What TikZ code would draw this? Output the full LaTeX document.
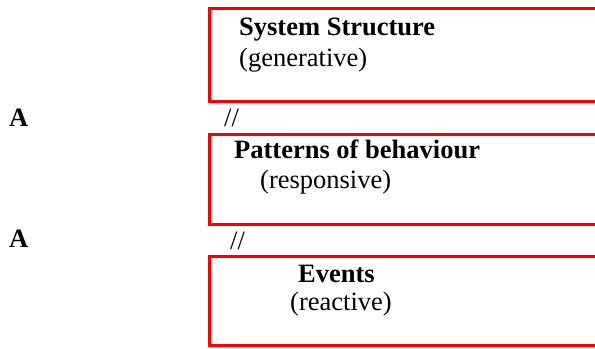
\documentclass[tikz,border=0pt]{standalone}
\usepackage{fontspec}
\setmainfont{Liberation Serif}
\definecolor{boxred}{RGB}{255,0,0}
\begin{document}
\begin{tikzpicture}[x=1bp,y=-1bp,
  redbox/.style={draw=boxred,line width=3bp,line join=miter},
  lbl/.style={anchor=base west,inner sep=0pt,font=\fontsize{26.5bp}{30bp}\selectfont},
  title/.style={lbl,font=\fontsize{26.5bp}{30bp}\selectfont\bfseries}]
\useasboundingbox (0,0) rectangle (595,348);
% open boxes (right side runs off the page)
\draw[redbox] (600,8) -- (209,8) -- (209,101.5) -- (600,101.5);
\draw[redbox] (600,134.5) -- (209,134.5) -- (209,224.5) -- (600,224.5);
\draw[redbox] (600,256) -- (209,256) -- (209,345.5) -- (600,345.5);
% texts
\node[title] (t1) at (239,35.5) {System Structure};
\node[lbl] (s1) at (239,66.5) {(generative)};
\node[title] (a1) at (9,126.5) {A};
\node[lbl] (d1) at (224,126.5) {//};
\node[title] (t2) at (234,158) {Patterns of behaviour};
\node[lbl] (s2) at (260,188) {(responsive)};
\node[title] (a2) at (9,247) {A};
\node[lbl] (d2) at (230,249.5) {//};
\node[title] (t3) at (298,282) {Events};
\node[lbl] (s3) at (290,310) {(reactive)};
\end{tikzpicture}
\end{document}
